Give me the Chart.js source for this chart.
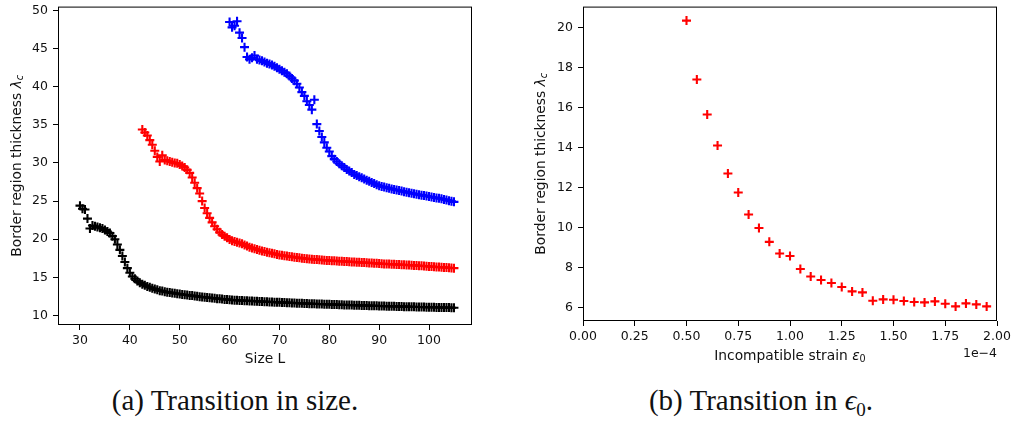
<!DOCTYPE html>
<html>
<head>
<meta charset="utf-8">
<script src="https://cdn.jsdelivr.net/npm/chart.js@4.4.0/dist/chart.umd.min.js"></script>
<style>
    body { margin: 0; background: #fff; width: 1022px; height: 432px; overflow: hidden; position: relative; }
    #sizeChart { position: absolute; left: 0; top: 0; }
    #strainChart { position: absolute; left: 510px; top: 0; }
    .cap { position: absolute; top: 384px; font-family: 'Liberation Serif', serif; font-size: 29px;
           white-space: nowrap; transform: translateX(-50%); color: #111; line-height: 32px; }
    .cap sub { font-size: 19px; vertical-align: -6px; }
</style>
</head>
<body>
<canvas id="sizeChart" width="500" height="370"></canvas>
<canvas id="strainChart" width="512" height="370"></canvas>
<div class="cap" style="left:235px">(a) Transition in size.</div>
<div class="cap" style="left:761px">(b) Transition in <i>ϵ</i><sub>0</sub>.</div>
<script>
// (a) border thickness vs system size, three runs
var blackL = [
    30, 30.5, 31, 31.5, 32, 32.5, 33, 33.5, 34, 34.5,
    35, 35.5, 36, 36.5, 37, 37.5, 38, 38.5, 39, 39.5,
    40, 40.5, 41, 41.5, 42, 42.5, 43, 43.5, 44, 44.5,
    45, 45.5, 46, 46.5, 47, 47.5, 48, 48.5, 49, 49.5,
    50, 50.5, 51, 51.5, 52, 52.5, 53, 53.5, 54, 54.5,
    55, 55.5, 56, 56.5, 57, 57.5, 58, 58.5, 59, 59.5,
    60, 60.5, 61, 61.5, 62, 62.5, 63, 63.5, 64, 64.5,
    65, 65.5, 66, 66.5, 67, 67.5, 68, 68.5, 69, 69.5,
    70, 70.5, 71, 71.5, 72, 72.5, 73, 73.5, 74, 74.5,
    75, 75.5, 76, 76.5, 77, 77.5, 78, 78.5, 79, 79.5,
    80, 80.5, 81, 81.5, 82, 82.5, 83, 83.5, 84, 84.5,
    85, 85.5, 86, 86.5, 87, 87.5, 88, 88.5, 89, 89.5,
    90, 90.5, 91, 91.5, 92, 92.5, 93, 93.5, 94, 94.5,
    95, 95.5, 96, 96.5, 97, 97.5, 98, 98.5, 99, 99.5,
    100, 100.5, 101, 101.5, 102, 102.5, 103, 103.5, 104, 104.5,
    105
];
var blackLambda = [
    24.4, 24.0, 23.9, 22.7, 21.4, 21.8, 21.7, 21.6, 21.5, 21.4,
    21.2, 21.0, 20.8, 20.4, 20.0, 19.3, 18.6, 17.8, 17.0, 16.2,
    15.6, 15.1, 14.8, 14.5, 14.3, 14.1, 13.95, 13.8, 13.7, 13.55,
    13.45, 13.35, 13.25, 13.2, 13.1, 13.05, 13.0, 12.95, 12.9, 12.85,
    12.8, 12.75, 12.7, 12.68, 12.62, 12.6, 12.55, 12.5, 12.45, 12.42,
    12.38, 12.35, 12.3, 12.28, 12.25, 12.2, 12.18, 12.15, 12.1, 12.1,
    12.05, 12.03, 12.0, 11.98, 11.97, 11.95, 11.93, 11.92, 11.9, 11.88,
    11.87, 11.85, 11.84, 11.82, 11.8, 11.79, 11.77, 11.76, 11.74, 11.73,
    11.71, 11.7, 11.68, 11.67, 11.65, 11.64, 11.62, 11.61, 11.6, 11.58,
    11.57, 11.56, 11.54, 11.53, 11.52, 11.5, 11.49, 11.48, 11.47, 11.46,
    11.45, 11.44, 11.42, 11.42, 11.4, 11.39, 11.38, 11.37, 11.36, 11.35,
    11.34, 11.33, 11.32, 11.31, 11.3, 11.3, 11.28, 11.27, 11.26, 11.25,
    11.24, 11.24, 11.22, 11.21, 11.2, 11.2, 11.19, 11.18, 11.17, 11.16,
    11.15, 11.15, 11.14, 11.13, 11.12, 11.11, 11.11, 11.1, 11.09, 11.08,
    11.08, 11.07, 11.06, 11.05, 11.05, 11.04, 11.03, 11.02, 11.02, 11.0,
    11.0
];

var redL = [
    42.5, 43, 43.5, 44, 44.5, 45, 45.5, 46, 46.5,
    47, 47.5, 48, 48.5, 49, 49.5, 50, 50.5, 51, 51.5,
    52, 52.5, 53, 53.5, 54, 54.5, 55, 55.5, 56, 56.5,
    57, 57.5, 58, 58.5, 59, 59.5, 60, 60.5, 61, 61.5,
    62, 62.5, 63, 63.5, 64, 64.5, 65, 65.5, 66, 66.5,
    67, 67.5, 68, 68.5, 69, 69.5, 70, 70.5, 71, 71.5,
    72, 72.5, 73, 73.5, 74, 74.5, 75, 75.5, 76, 76.5,
    77, 77.5, 78, 78.5, 79, 79.5, 80, 80.5, 81, 81.5,
    82, 82.5, 83, 83.5, 84, 84.5, 85, 85.5, 86, 86.5,
    87, 87.5, 88, 88.5, 89, 89.5, 90, 90.5, 91, 91.5,
    92, 92.5, 93, 93.5, 94, 94.5, 95, 95.5, 96, 96.5,
    97, 97.5, 98, 98.5, 99, 99.5, 100, 100.5, 101, 101.5,
    102, 102.5, 103, 103.5, 104, 104.5, 105
];
var redLambda = [
    34.4, 34.0, 33.6, 33.0, 32.4, 31.6, 30.8, 30.2, 31.0,
    30.4, 30.3, 30.2, 30.1, 30.0, 29.95, 29.8, 29.6, 29.4, 29.1,
    28.7, 28.1, 27.4, 26.7, 26.0, 25.0, 24.1, 23.4, 22.8, 22.2,
    21.7, 21.3, 20.9, 20.6, 20.4, 20.2, 19.95, 19.8, 19.7, 19.6,
    19.5, 19.4, 19.25, 19.1, 18.95, 18.85, 18.75, 18.65, 18.55, 18.45,
    18.37, 18.29, 18.22, 18.15, 18.08, 18.0, 17.93, 17.88, 17.83, 17.78,
    17.73, 17.68, 17.63, 17.59, 17.55, 17.51, 17.47, 17.44, 17.41, 17.38,
    17.35, 17.32, 17.3, 17.27, 17.25, 17.22, 17.2, 17.18, 17.16, 17.14,
    17.12, 17.1, 17.08, 17.06, 17.04, 17.02, 17.0, 16.98, 16.96, 16.95,
    16.93, 16.91, 16.89, 16.87, 16.85, 16.83, 16.8, 16.78, 16.76, 16.75,
    16.73, 16.72, 16.7, 16.68, 16.67, 16.65, 16.63, 16.62, 16.6, 16.58,
    16.56, 16.54, 16.52, 16.5, 16.48, 16.46, 16.42, 16.4, 16.38, 16.36,
    16.34, 16.32, 16.3, 16.28, 16.25, 16.22, 16.2
];

var blueL = [
    60, 60.5, 61, 61.5, 62, 62.5, 63, 63.5, 64, 64.5,
    65, 65.5, 66, 66.5, 67, 67.5, 68, 68.5, 69, 69.5,
    70, 70.5, 71, 71.5, 72, 72.5, 73, 73.5, 74, 74.5,
    75, 75.5, 76, 76.5, 77, 77.5, 78, 78.5, 79, 79.5,
    80, 80.5, 81, 81.5, 82, 82.5, 83, 83.5, 84, 84.5,
    85, 85.5, 86, 86.5, 87, 87.5, 88, 88.5, 89, 89.5,
    90, 90.5, 91, 91.5, 92, 92.5, 93, 93.5, 94, 94.5,
    95, 95.5, 96, 96.5, 97, 97.5, 98, 98.5, 99, 99.5,
    100, 100.5, 101, 101.5, 102, 102.5, 103, 103.5, 104, 104.5,
    105
];
var blueLambda = [
    48.5, 47.8, 48.0, 48.6, 47.1, 46.4, 45.2, 43.9, 43.6, 43.8,
    44.1, 43.6, 43.5, 43.4, 43.25, 43.1, 43.0, 42.85, 42.7, 42.5,
    42.3, 42.1, 41.9, 41.7, 41.4, 41.1, 40.8, 40.4, 39.9, 39.3,
    38.8, 38.1, 37.6, 37.0, 38.3, 35.1, 34.2, 33.4, 32.7, 32.0,
    31.5, 30.9, 30.5, 30.2, 29.9, 29.65, 29.4, 29.15, 28.95, 28.75,
    28.5, 28.35, 28.2, 28.05, 27.9, 27.75, 27.6, 27.45, 27.3, 27.15,
    27.0, 26.92, 26.84, 26.76, 26.68, 26.6, 26.52, 26.45, 26.38, 26.31,
    26.24, 26.17, 26.1, 26.03, 25.96, 25.9, 25.84, 25.78, 25.72, 25.66,
    25.6, 25.54, 25.48, 25.42, 25.36, 25.3, 25.22, 25.14, 25.06, 24.98,
    24.9
];

// (b) border thickness vs incompatible strain (units of 1e-4)
var strain = [
    0.50, 0.55, 0.60, 0.65, 0.70, 0.75, 0.80, 0.85, 0.90, 0.95,
    1.00, 1.05, 1.10, 1.15, 1.20, 1.25, 1.30, 1.35, 1.40, 1.45,
    1.50, 1.55, 1.60, 1.65, 1.70, 1.75, 1.80, 1.85, 1.90, 1.95
];
var strainLambda = [
    20.35, 17.4, 15.65, 14.1, 12.7, 11.75, 10.65, 9.97, 9.28, 8.7,
    8.57, 7.92, 7.55, 7.37, 7.22, 7.02, 6.8, 6.75, 6.33, 6.4,
    6.38, 6.32, 6.27, 6.25, 6.3, 6.18, 6.05, 6.2, 6.15, 6.05
];

var sizeTicks = [30, 40, 50, 60, 70, 80, 90, 100];
var sizeLambdaTicks = [10, 15, 20, 25, 30, 35, 40, 45, 50];
var strainTicks = [0, 0.25, 0.5, 0.75, 1.0, 1.25, 1.5, 1.75, 2.0];
var strainLambdaTicks = [6, 8, 10, 12, 14, 16, 18, 20];

var FAMILY = "'DejaVu Sans', sans-serif";
var tickFont = {family: FAMILY, size: 12.5};
var titleFont = '13.8px ' + FAMILY;

function pts(xs, ys) {
    return xs.map(function (x, i) { return {x: x, y: ys[i]}; });
}

function crossSet(xs, ys, color) {
    return {
        data: pts(xs, ys),
        pointStyle: 'cross',
        pointRadius: 4.5,
        pointHoverRadius: 4.5,
        pointBorderWidth: 2.1,
        pointBorderColor: color,
        pointBackgroundColor: color,
        borderColor: color,
        backgroundColor: color
    };
}

function fixedSize(w, h) {
    return function (scale) {
        if (w) scale.width = w;
        if (h) scale.height = h;
        scale.paddingTop = 0;
        scale.paddingBottom = 0;
        scale.paddingLeft = 0;
        scale.paddingRight = 0;
    };
}

function fixedTicks(values) {
    return function (scale) {
        scale.ticks = values.map(function (v) { return {value: v}; });
    };
}

function axis(min, max, ticks, w, h, fmt) {
    return {
        type: 'linear',
        min: min,
        max: max,
        afterBuildTicks: fixedTicks(ticks),
        afterFit: fixedSize(w, h),
        grid: {drawOnChartArea: false, drawTicks: true, tickLength: 5, color: '#000', lineWidth: 1},
        border: {display: false},
        ticks: {
            font: tickFont, color: '#111', padding: w ? 5 : 3,
            maxRotation: 0, autoSkip: false,
            callback: fmt || function (v) { return String(v); }
        }
    };
}

function drawRich(ctx, parts, x, y, rotate, align) {
    ctx.save();
    ctx.translate(x, y);
    if (rotate) ctx.rotate(-Math.PI / 2);
    var total = 0;
    parts.forEach(function (p) {
        ctx.font = p.font;
        p.w = ctx.measureText(p.t).width;
        total += p.w;
    });
    var cx = align === 'right' ? -total : -total / 2;
    ctx.fillStyle = '#111';
    ctx.textBaseline = 'middle';
    ctx.textAlign = 'left';
    parts.forEach(function (p) {
        ctx.font = p.font;
        ctx.fillText(p.t, cx, p.dy || 0);
        cx += p.w;
    });
    ctx.restore();
}

function drawFrame(chart) {
    var a = chart.chartArea, ctx = chart.ctx;
    ctx.save();
    ctx.strokeStyle = '#000';
    ctx.lineWidth = 1;
    ctx.strokeRect(a.left + 0.5, a.top + 0.5, a.right - a.left - 1, a.bottom - a.top - 1);
    ctx.restore();
}

var lambdaTitle = [
    {t: 'Border region thickness ', font: titleFont},
    {t: 'λ', font: 'italic ' + titleFont},
    {t: 'c', font: 'italic 9.6px ' + FAMILY, dy: 3}
];

var sizeDecor = {
    id: 'sizeDecor',
    afterDraw: function (chart) {
        var a = chart.chartArea, ctx = chart.ctx;
        drawFrame(chart);
        drawRich(ctx, [{t: 'Size L', font: titleFont}], (a.left + a.right) / 2, 359);
        drawRich(ctx, lambdaTitle, 17, (a.top + a.bottom) / 2, true);
    }
};

var strainDecor = {
    id: 'strainDecor',
    afterDraw: function (chart) {
        var a = chart.chartArea, ctx = chart.ctx;
        drawFrame(chart);
        drawRich(ctx, [
            {t: 'Incompatible strain ', font: titleFont},
            {t: 'ε', font: 'italic ' + titleFont},
            {t: '0', font: '9.6px ' + FAMILY, dy: 3}
        ], (a.left + a.right) / 2, 356);
        drawRich(ctx, lambdaTitle, 31, (a.top + a.bottom) / 2, true);
        drawRich(ctx, [{t: '1e\u22124', font: '12.5px ' + FAMILY}], a.right, 354, false, 'right');
    }
};

var baseOptions = {
    responsive: false,
    animation: false,
    events: [],
    plugins: {legend: {display: false}, tooltip: {enabled: false}}
};

new Chart(document.getElementById('sizeChart'), {
    type: 'scatter',
    data: {
        datasets: [
            crossSet(blackL, blackLambda, '#000000'),
            crossSet(redL, redLambda, '#ff0000'),
            crossSet(blueL, blueLambda, '#0000ff')
        ]
    },
    options: Object.assign({}, baseOptions, {
        layout: {padding: {left: 0, top: 3, right: 28, bottom: 0}},
        scales: {
            x: axis(25.59, 108.62, sizeTicks, 0, 45),
            y: axis(8.74, 50.52, sizeLambdaTicks, 58, 0)
        }
    }),
    plugins: [sizeDecor]
});

new Chart(document.getElementById('strainChart'), {
    type: 'scatter',
    data: {
        datasets: [crossSet(strain, strainLambda, '#ff0000')]
    },
    options: Object.assign({}, baseOptions, {
        layout: {padding: {left: 0, top: 3, right: 25, bottom: 0}},
        scales: {
            x: axis(0, 2, strainTicks, 0, 49, function (v) { return v.toFixed(2); }),
            y: axis(5.32, 21.05, strainLambdaTicks, 73, 0)
        }
    }),
    plugins: [strainDecor]
});
</script>
</body>
</html>
